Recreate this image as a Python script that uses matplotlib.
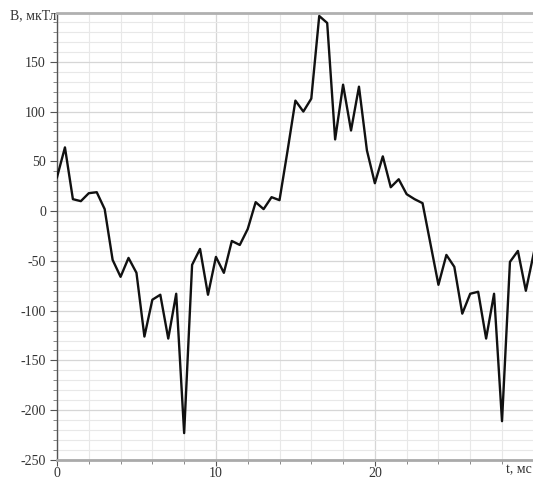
import matplotlib.pyplot as plt
from matplotlib.ticker import MultipleLocator

############################## Datos ##############################
t_ms = [0.0, 0.5, 1.0, 1.5, 2.0, 2.5, 3.0, 3.5, 4.0, 4.5,
        5.0, 5.5, 6.0, 6.5, 7.0, 7.5, 8.0, 8.5, 9.0, 9.5,
        10.0, 10.5, 11.0, 11.5, 12.0, 12.5, 13.0, 13.5, 14.0, 14.5,
        15.0, 15.5, 16.0, 16.5, 17.0, 17.5, 18.0, 18.5, 19.0, 19.5,
        20.0, 20.5, 21.0, 21.5, 22.0, 22.5, 23.0, 23.5, 24.0, 24.5,
        25.0, 25.5, 26.0, 26.5, 27.0, 27.5, 28.0, 28.5, 29.0, 29.5,
        30.0]
b_mkt = [34, 64, 12, 10, 18, 19, 2, -49, -66, -47,
         -62, -126, -89, -84, -128, -83, -223, -54, -38, -84,
         -46, -62, -30, -34, -18, 9, 2, 14, 11, 60,
         111, 100, 113, 196, 189, 72, 127, 81, 125, 61,
         28, 55, 24, 32, 17, 12, 8, -33, -74, -44,
         -56, -103, -83, -81, -128, -83, -211, -51, -40, -80,
         -42]

y_ticks = [-250, -200, -150, -100, -50, 0, 50, 100, 150]
x_ticks = [0, 10, 20]

###################### Figura ######################
plt.rcParams['font.family'] = ['Liberation Serif', 'DejaVu Serif']
plt.rcParams['axes.unicode_minus'] = False

fig = plt.figure(figsize=(5.33, 4.79), dpi=100)
ax = fig.add_axes([57/533, 19/479, 1 - 57/533, 447/479])

ax.plot(t_ms, b_mkt, color='#111111', lw=1.7, zorder=3)

ax.set_xlim(0, 29.95)
ax.set_ylim(-250, 199)

ax.set_xticks(x_ticks)
ax.set_yticks(y_ticks)
ax.xaxis.set_minor_locator(MultipleLocator(2))
ax.yaxis.set_minor_locator(MultipleLocator(10))

ax.grid(which='minor', color='#e8e8e8', lw=0.8, zorder=0)
ax.grid(which='major', color='#d6d6d6', lw=0.9, zorder=0)

ax.tick_params(axis='y', which='major', length=5, width=0.8, color='#555555',
               labelsize=10, labelcolor='#333333', pad=3)
ax.tick_params(axis='y', which='minor', length=3, width=0.6, color='#777777')
ax.tick_params(axis='x', which='major', length=4, width=0.8, color='#555555',
               labelsize=10, labelcolor='#333333', pad=1)
ax.tick_params(axis='x', which='minor', length=3, width=0.6, color='#777777')

ax.spines['left'].set_color('#555555')
ax.spines['left'].set_linewidth(1.0)
ax.spines['bottom'].set_color('#aaaaaa')
ax.spines['bottom'].set_linewidth(2.0)
ax.spines['top'].set_color('#b0b0b0')
ax.spines['top'].set_linewidth(2.0)
ax.spines['right'].set_visible(False)

fig.text(56/533, 1 - 16/479, 'B, мкТл', ha='right', va='center',
         fontsize=10, color='#333333')
fig.text(506/533, 1 - 470/479, 't, мс', ha='left', va='center',
         fontsize=10, color='#333333')

fig.savefig('out.png', dpi=100)
